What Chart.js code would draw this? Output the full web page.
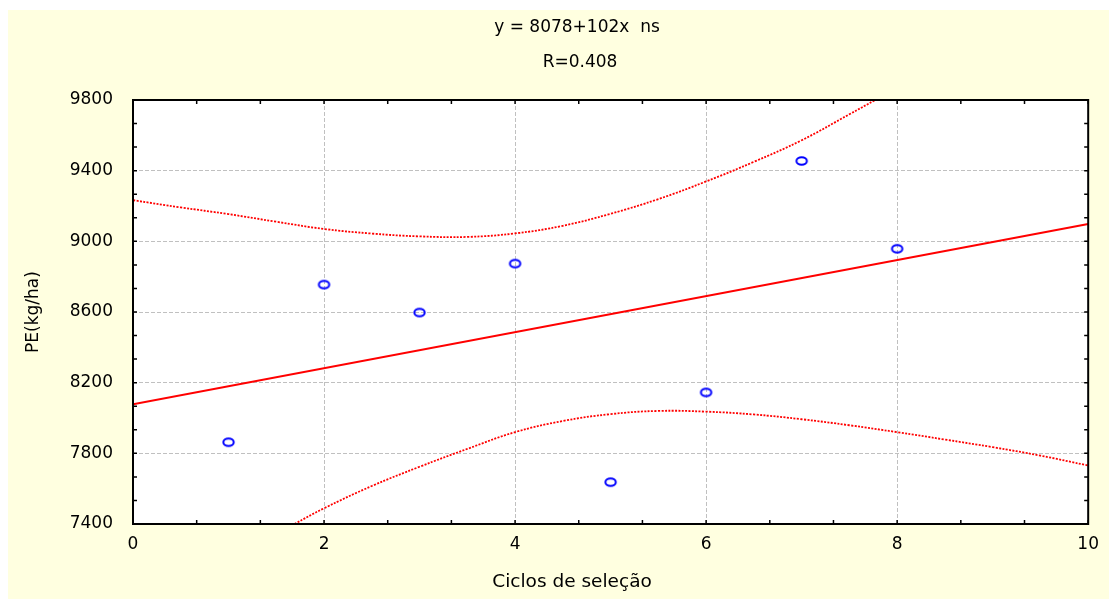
<!DOCTYPE html>
<html>
<head>
<meta charset="utf-8">
<script src="https://cdn.jsdelivr.net/npm/chart.js@4.4.0/dist/chart.umd.min.js"></script>
<style>
  html, body { margin: 0; padding: 0; background: #fff; }
  #box { position: absolute; left: 8px; top: 10px; width: 1101px; height: 589px; background: #ffffe0; }
</style>
</head>
<body>
<div id="box"><canvas id="chart" width="1101" height="589"></canvas></div>
<script>
var titleLines = ['y = 8078+102x  ns', 'R=0.408'];
var xTitle = 'Ciclos de seleção';
var yTitle = 'PE(kg/ha)';

// observed points
var cycles = [1, 2, 3, 4, 5, 6, 7, 8];
var yieldValues = [7863, 8755, 8597, 8874, 7637, 8145, 9455, 8958];

// fitted line
var fitX = [0, 10];
var fitY = [8078, 9098];

// confidence bands
var upperX = [0, 0.5, 1, 1.5, 2, 2.5, 3, 3.5, 4, 4.5, 5, 5.5, 6, 6.5, 7, 7.5, 7.77];
var upperY = [9233, 9192, 9154, 9111, 9070, 9044, 9028, 9025, 9045, 9088, 9156, 9239, 9339, 9450, 9572, 9719, 9800];
var lowerX = [1.69, 2, 2.5, 3, 3.5, 4, 4.5, 5, 5.5, 6, 6.5, 7, 7.5, 8, 8.5, 9, 9.5, 10];
var lowerY = [7400, 7489, 7615, 7724, 7825, 7920, 7983, 8022, 8040, 8036, 8020, 7993, 7959, 7920, 7878, 7835, 7787, 7731];

var xTicks = [0, 2, 4, 6, 8, 10];
var yTicks = [7400, 7800, 8200, 8600, 9000, 9400, 9800];

function pairs(xs, ys) {
    return xs.map(function (x, i) { return {x: x, y: ys[i]}; });
}

// open ellipse marker like the original
var marker = document.createElement('canvas');
marker.width = 15;
marker.height = 12;
var mctx = marker.getContext('2d');
mctx.strokeStyle = '#0000ff';
mctx.lineWidth = 2;
mctx.beginPath();
mctx.ellipse(7.5, 6, 5.2, 3.8, 0, 0, Math.PI * 2);
mctx.stroke();

var font = 'DejaVu Sans';

var framePlugin = {
    id: 'frame',
    beforeDraw: function (chart) {
        var a = chart.chartArea, ctx = chart.ctx;
        ctx.save();
        ctx.fillStyle = '#ffffff';
        ctx.fillRect(a.left, a.top, a.right - a.left, a.bottom - a.top);
        ctx.restore();
    },
    afterDatasetsDraw: function (chart) {
        var a = chart.chartArea, ctx = chart.ctx;
        var xs = chart.scales.x, ys = chart.scales.y;
        ctx.save();
        ctx.strokeStyle = '#000';
        ctx.lineWidth = 1.5;
        ctx.beginPath();
        var v, p;
        for (v = 0; v <= 10.001; v += 2 / 3) {
            p = xs.getPixelForValue(v);
            ctx.moveTo(p, a.bottom); ctx.lineTo(p, a.bottom - 4);
            ctx.moveTo(p, a.top); ctx.lineTo(p, a.top + 4);
        }
        for (v = 7400; v <= 9800.01; v += 400 / 3) {
            p = ys.getPixelForValue(v);
            ctx.moveTo(a.left, p); ctx.lineTo(a.left + 4, p);
            ctx.moveTo(a.right, p); ctx.lineTo(a.right - 4, p);
        }
        ctx.stroke();
        ctx.lineWidth = 2;
        ctx.strokeRect(a.left, a.top, a.right - a.left, a.bottom - a.top);
        ctx.restore();
    },
    afterDraw: function (chart) {
        var ctx = chart.ctx;
        ctx.save();
        ctx.fillStyle = '#000';
        ctx.textAlign = 'center';
        ctx.textBaseline = 'alphabetic';
        ctx.font = '17px "' + font + '"';
        ctx.fillText(titleLines[0], 569, 22);
        ctx.fillText(titleLines[1], 572, 56.5);
        ctx.font = '18.5px "' + font + '"';
        ctx.fillText(xTitle, 564, 576.5);
        ctx.restore();
    }
};

var bandStyle = {
    showLine: true,
    borderColor: '#ff0000',
    borderWidth: 1.8,
    borderDash: [2, 1.4],
    tension: 0.4,
    pointRadius: 0
};

new Chart(document.getElementById('chart'), {
    type: 'scatter',
    data: {
        datasets: [{
            data: pairs(cycles, yieldValues),
            pointStyle: marker,
            pointRadius: 6,
            showLine: false
        }, {
            data: pairs(fitX, fitY),
            showLine: true,
            borderColor: '#ff0000',
            borderWidth: 2,
            pointRadius: 0
        }, Object.assign({ data: pairs(upperX, upperY) }, bandStyle),
           Object.assign({ data: pairs(lowerX, lowerY) }, bandStyle)]
    },
    options: {
        responsive: false,
        animation: false,
        devicePixelRatio: 1,
        layout: { padding: { top: 90, right: 20, left: 0, bottom: 0 } },
        plugins: {
            legend: { display: false },
            tooltip: { enabled: false }
        },
        scales: {
            x: {
                type: 'linear',
                min: 0,
                max: 10,
                afterBuildTicks: function (s) { s.ticks = xTicks.map(function (v) { return {value: v}; }); },
                afterFit: function (s) { s.height = 75; },
                grid: { color: '#c0c0c0', lineWidth: 1, drawTicks: false },
                border: { display: false, dash: [4, 2] },
                ticks: { padding: 10, color: '#000', maxRotation: 0, autoSkip: false,
                         font: { family: font, size: 17 }, callback: function (v) { return String(v); } },
                title: { display: false }
            },
            y: {
                type: 'linear',
                min: 7400,
                max: 9800,
                afterBuildTicks: function (s) { s.ticks = yTicks.map(function (v) { return {value: v}; }); },
                afterFit: function (s) { s.width = 125; },
                grid: { color: '#c0c0c0', lineWidth: 1, drawTicks: false },
                border: { display: false, dash: [4, 2] },
                ticks: { padding: 20, color: '#000', autoSkip: false,
                         font: { family: font, size: 17 }, callback: function (v) { return String(v); } },
                title: { display: true, text: yTitle, color: '#000', font: { family: font, size: 17 }, padding: { top: 15, bottom: 0 } }
            }
        }
    },
    plugins: [framePlugin]
});
</script>
</body>
</html>
